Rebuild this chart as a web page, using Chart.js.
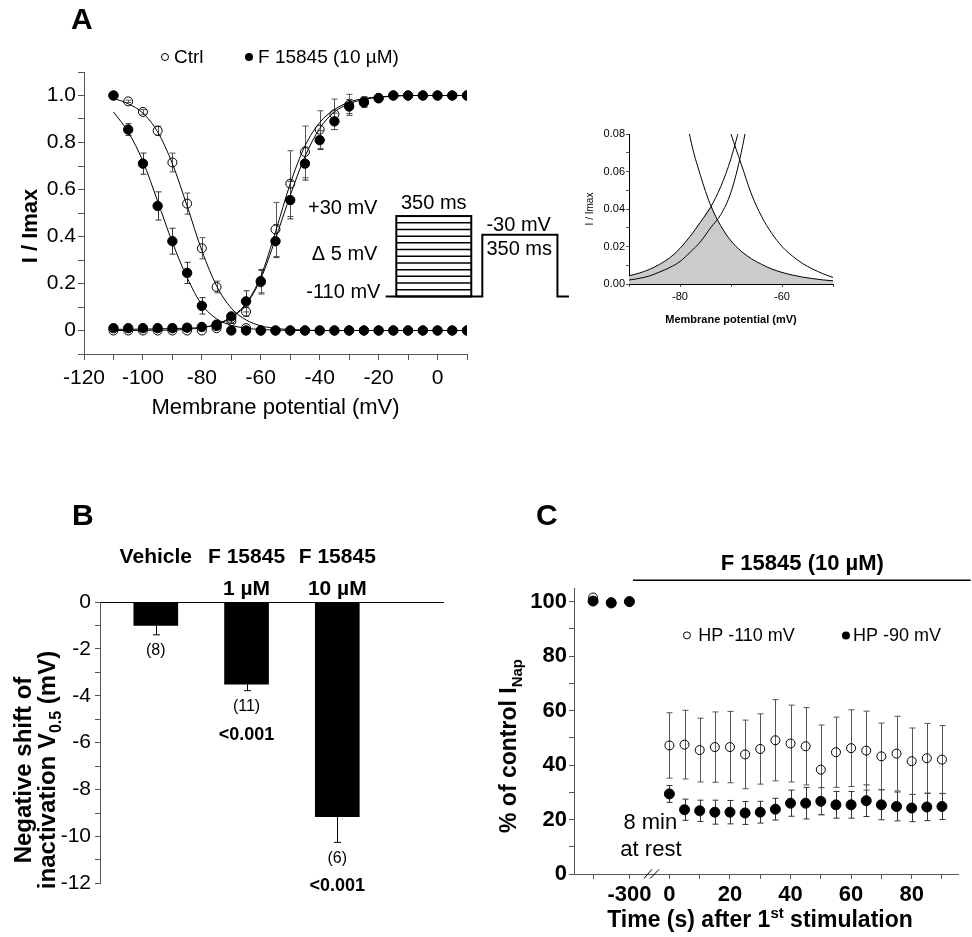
<!DOCTYPE html>
<html>
<head>
<meta charset="utf-8">
<title>F 15845 and INap</title>
<script src="https://cdn.jsdelivr.net/npm/chart.js@4.4.1/dist/chart.umd.min.js"></script>
<style>
  body { margin: 0; background: #fff; }
  #fig { position: relative; width: 972px; height: 937px; overflow: hidden; font-family: "Liberation Sans", Arial, sans-serif; }
  #fig canvas { position: absolute; }
  .letter { position: absolute; font-weight: bold; font-size: 30px; line-height: 30px; }
</style>
</head>
<body>
<div id="fig">
  <canvas id="chartA" width="580" height="425" style="left:0;top:0"></canvas>
  <canvas id="chartInset" width="280" height="220" style="left:575px;top:115px"></canvas>
  <canvas id="chartB" width="460" height="420" style="left:0;top:480px"></canvas>
  <canvas id="chartC" width="492" height="457" style="left:480px;top:480px"></canvas>
  <div class="letter" style="left:71px;top:4px">A</div>
  <div class="letter" style="left:72px;top:500px">B</div>
  <div class="letter" style="left:536px;top:500px">C</div>
</div>
<script>
const FONT = '"Liberation Sans", Arial, sans-serif';
const AXIS = '#555';

// A - activation / steady-state inactivation
const voltages = [-110, -105, -100, -95, -90, -85, -80, -75, -70, -65, -60, -55, -50, -45, -40, -35, -30, -25, -20, -15, -10, -5, 0, 5, 10];
const ctrlInact = [1.0, 0.975, 0.93, 0.85, 0.715, 0.54, 0.35, 0.185, 0.05, 0.01, 0, 0, 0, 0, 0, 0, 0, 0, 0, 0, 0, 0, 0, 0, 0];
const ctrlInactErr = [0, 0.005, 0.01, 0.02, 0.04, 0.045, 0.045, 0.025, 0.02, 0, 0, 0, 0, 0, 0, 0, 0, 0, 0, 0, 0, 0, 0, 0, 0];
const ctrlAct = [0, 0, 0, 0, 0, 0, 0, 0.01, 0.04, 0.08, 0.205, 0.43, 0.625, 0.76, 0.855, 0.92, 0.96, 0.975, 0.99, 1, 1, 1, 1, 1, 1];
const ctrlActErr = [0, 0, 0, 0, 0, 0, 0, 0, 0.01, 0.02, 0.05, 0.115, 0.14, 0.11, 0.08, 0.065, 0.045, 0.02, 0.01, 0, 0, 0, 0, 0, 0];
const drugInact = [1.0, 0.855, 0.71, 0.53, 0.38, 0.245, 0.105, 0.025, 0, 0, 0, 0, 0, 0, 0, 0, 0, 0, 0, 0, 0, 0, 0, 0, 0];
const drugInactErr = [0, 0.025, 0.045, 0.06, 0.055, 0.045, 0.035, 0.01, 0, 0, 0, 0, 0, 0, 0, 0, 0, 0, 0, 0, 0, 0, 0, 0, 0];
const drugAct = [0.01, 0.01, 0.01, 0.01, 0.01, 0.012, 0.015, 0.02, 0.06, 0.124, 0.21, 0.38, 0.555, 0.71, 0.81, 0.89, 0.953, 0.97, 0.988, 1, 1, 1, 1, 1, 1];
const drugActErr = [0, 0, 0, 0, 0, 0, 0, 0, 0.01, 0.045, 0.05, 0.07, 0.08, 0.07, 0.04, 0.035, 0.03, 0.02, 0, 0, 0, 0, 0, 0, 0];
// fitted curves
const ctrlInactFit = [0.988, 0.965, 0.925, 0.845, 0.71, 0.53, 0.34, 0.19, 0.095, 0.045, 0.02, 0.009, 0.004, 0.002, 0, 0, 0, 0, 0, 0, 0, 0, 0, 0, 0];
const drugInactFit = [0.93, 0.845, 0.72, 0.55, 0.375, 0.225, 0.11, 0.05, 0.022, 0.01, 0.004, 0.002, 0, 0, 0, 0, 0, 0, 0, 0, 0, 0, 0, 0, 0];
const ctrlActFit = [0, 0, 0.001, 0.001, 0.002, 0.005, 0.012, 0.027, 0.058, 0.115, 0.23, 0.42, 0.625, 0.785, 0.885, 0.94, 0.972, 0.987, 0.994, 0.998, 1, 1, 1, 1, 1];
const drugActFit = [0.005, 0.005, 0.006, 0.007, 0.008, 0.01, 0.013, 0.025, 0.055, 0.11, 0.22, 0.39, 0.575, 0.74, 0.86, 0.93, 0.965, 0.983, 0.992, 0.997, 1, 1, 1, 1, 1];

// inset - window current
const insetVoltages = [-90, -88, -86, -84, -82, -80, -78, -76, -74, -72, -70, -68, -66, -64, -62, -60, -58, -56, -54, -52, -50];
const insetDrugInact = [0.45, 0.35, 0.27, 0.2, 0.15, 0.11, 0.078, 0.058, 0.042, 0.031, 0.023, 0.0175, 0.0135, 0.0105, 0.008, 0.0062, 0.0048, 0.0037, 0.0029, 0.0022, 0.0017];
const insetCtrlInact = [0.9, 0.75, 0.6, 0.45, 0.35, 0.27, 0.2, 0.155, 0.12, 0.098, 0.08, 0.064, 0.048, 0.036, 0.027, 0.02, 0.015, 0.011, 0.008, 0.0055, 0.0035];
const insetDrugAct = [0.0044, 0.0058, 0.0078, 0.0105, 0.014, 0.019, 0.0255, 0.033, 0.041, 0.052, 0.067, 0.088, 0.12, 0.16, 0.21, 0.27, 0.35, 0.44, 0.54, 0.63, 0.72];
const insetCtrlAct = [0.0021, 0.003, 0.0043, 0.0064, 0.0088, 0.012, 0.017, 0.0225, 0.03, 0.037, 0.049, 0.07, 0.1, 0.14, 0.19, 0.25, 0.32, 0.4, 0.5, 0.6, 0.68];

// B - shift of V0.5
const groupNames = ['Vehicle', 'F 15845', 'F 15845'];
const groupDoses = ['', '1 µM', '10 µM'];
const shiftMeans = [-1.0, -3.5, -9.15];
const shiftErr = [0.4, 0.28, 1.1];
const groupN = ['(8)', '(11)', '(6)'];
const groupP = ['', '<0.001', '<0.001'];

// C - time course
const preTimes = [-320, -310, -300];
const preOpen = [101.5, 99.8, 100.0];
const preFilled = [100.2, 99.5, 100.0];
const times = [0, 5, 10, 15, 20, 25, 30, 35, 40, 45, 50, 55, 60, 65, 70, 75, 80, 85, 90];
const openMean = [47.2, 47.5, 45.5, 46.6, 46.6, 43.9, 45.9, 49.1, 47.9, 46.9, 38.3, 44.7, 46.2, 45.3, 43.2, 44.2, 41.4, 42.5, 42.0];
const openErr = [12, 12.6, 11.7, 12.9, 13.1, 12.6, 12.9, 14.9, 14.1, 14.2, 16.4, 12.9, 14.1, 14.5, 12.2, 13.7, 12.2, 12.8, 12.5];
const filledMean = [29.4, 23.6, 23.2, 22.7, 22.7, 22.4, 22.7, 23.8, 26.0, 26.0, 26.7, 25.4, 25.4, 26.9, 25.4, 24.8, 24.2, 24.6, 24.8];
const filledErr = [3.1, 3.9, 3.9, 4.4, 4.3, 4.2, 4.0, 4.0, 4.8, 5.8, 5.0, 4.9, 4.9, 5.8, 5.5, 5.3, 5.0, 5.0, 4.8];
const xTickTimes = [-320, -300, 0, 10, 20, 30, 40, 50, 60, 70, 80, 90];
const xTickLabels = ['', '-300', '0', '', '20', '', '40', '', '60', '', '80', ''];
const yTicksC = [0, 10, 20, 30, 40, 50, 60, 70, 80, 90, 100];

Chart.defaults.font.family = FONT;
Chart.defaults.color = '#000';
Chart.defaults.animation = false;
Chart.defaults.plugins.legend.display = false;
Chart.defaults.plugins.tooltip.enabled = false;

function pts(xs, ys) {
  return xs.map((x, i) => ({ x: x, y: ys[i] }));
}

function circle(ctx, x, y, r, filled) {
  ctx.save();
  ctx.beginPath();
  ctx.arc(x, y, r, 0, Math.PI * 2);
  if (filled) { ctx.fillStyle = '#000'; ctx.fill(); }
  else { ctx.strokeStyle = '#000'; ctx.lineWidth = 1; ctx.stroke(); }
  ctx.restore();
}

function label(ctx, str, x, y, size, weight, align) {
  ctx.save();
  ctx.font = (weight || 'normal') + ' ' + size + 'px ' + FONT;
  ctx.fillStyle = '#000';
  ctx.textAlign = align || 'center';
  ctx.textBaseline = 'middle';
  ctx.fillText(str, x, y);
  ctx.restore();
}

// text with sub/superscripts, centred on (x, y), optionally rotated
function richText(ctx, parts, x, y, size, weight, rotated) {
  const small = Math.round(size * 0.65);
  const fontOf = m => weight + ' ' + (m ? small : size) + 'px ' + FONT;
  ctx.save();
  ctx.translate(x, y);
  if (rotated) ctx.rotate(-Math.PI / 2);
  let total = 0;
  parts.forEach(p => { ctx.font = fontOf(p[1]); total += ctx.measureText(p[0]).width; });
  let cx = -total / 2;
  ctx.fillStyle = '#000';
  ctx.textBaseline = 'alphabetic';
  ctx.textAlign = 'left';
  parts.forEach(p => {
    ctx.font = fontOf(p[1]);
    const dy = p[1] === 'sub' ? size * 0.25 : p[1] === 'sup' ? -size * 0.42 : 0;
    ctx.fillText(p[0], cx, size * 0.36 + dy);
    cx += ctx.measureText(p[0]).width;
  });
  ctx.restore();
}

const errorBars = {
  id: 'errorBars',
  beforeDatasetsDraw(chart) {
    const ctx = chart.ctx;
    chart.data.datasets.forEach((ds, i) => {
      if (!ds.errors) return;
      const meta = chart.getDatasetMeta(i);
      const yScale = chart.scales[meta.yAxisID];
      const cap = ds.capHalf || 3;
      ctx.save();
      ctx.strokeStyle = ds.errorColor || '#000';
      ctx.lineWidth = 1;
      meta.data.forEach((el, j) => {
        const e = ds.errors[j];
        if (!e) return;
        const v = ds.data[j].y;
        const lo = yScale.getPixelForValue(v - e);
        const hi = yScale.getPixelForValue(ds.errorDown ? v : v + e);
        const x = Math.round(el.x) + 0.5;
        ctx.beginPath();
        ctx.moveTo(x, hi); ctx.lineTo(x, lo);
        ctx.moveTo(x - cap, lo); ctx.lineTo(x + cap, lo);
        if (!ds.errorDown) { ctx.moveTo(x - cap, hi); ctx.lineTo(x + cap, hi); }
        ctx.stroke();
      });
      ctx.restore();
    });
  }
};

const openStyle = { pointRadius: 4.5, pointBackgroundColor: 'rgba(0,0,0,0)', pointBorderColor: '#000', pointBorderWidth: 1, showLine: false, errorColor: '#555' };
const filledStyle = { pointRadius: 4.7, pointBackgroundColor: '#000', pointBorderColor: '#000', pointBorderWidth: 1, showLine: false, errorColor: '#333' };

function fitLine(xs, ys) {
  return { data: pts(xs, ys), showLine: true, pointRadius: 0, borderColor: '#000', borderWidth: 1, cubicInterpolationMode: 'monotone' };
}

function axisGrid(len) {
  return { drawOnChartArea: false, tickLength: len, color: AXIS };
}

// ---------- panel A ----------
const panelA = {
  id: 'panelA',
  afterDraw(chart) {
    const { ctx, scales: { x, y } } = chart;
    const ds = chart.data.datasets;
    circle(ctx, 165, 57, 3.5, false);
    label(ctx, ds[2].label, 174, 58, 19, 'normal', 'left');
    circle(ctx, 249, 57, 4, true);
    label(ctx, ds[0].label, 258, 58, 19, 'normal', 'left');
    richText(ctx, [['I / Imax', '']], 29, 226, 22, 'bold', true);

    // voltage protocol sketch
    const px = v => x.getPixelForValue(v), py = v => y.getPixelForValue(v);
    ctx.save();
    ctx.strokeStyle = '#000';
    ctx.lineWidth = 1.5;
    const boxL = px(-14.0), boxR = px(11.45), top = py(0.487), hold = py(0.145);
    const steps = 12;
    for (let k = 1; k < steps; k++) {
      const yy = hold + (top - hold) * k / steps;
      ctx.beginPath(); ctx.moveTo(boxL, yy); ctx.lineTo(boxR, yy); ctx.stroke();
    }
    ctx.lineWidth = 2;
    ctx.strokeRect(boxL, top, boxR - boxL, hold - top);
    ctx.beginPath();
    ctx.moveTo(px(-17.6), hold); ctx.lineTo(px(15.2), hold);
    ctx.lineTo(px(15.2), py(0.407)); ctx.lineTo(px(40.7), py(0.407));
    ctx.lineTo(px(40.7), hold); ctx.lineTo(px(44.6), hold);
    ctx.stroke();
    ctx.restore();
    label(ctx, '+30 mV', px(-20.4), py(0.521), 20, 'normal', 'right');
    label(ctx, 'Δ 5 mV', px(-20.4), py(0.322), 20, 'normal', 'right');
    label(ctx, '-110 mV', px(-19.4), py(0.161), 20, 'normal', 'right');
    label(ctx, '350 ms', (boxL + boxR) / 2, py(0.542), 20);
    label(ctx, '-30 mV', px(16.6), py(0.449), 20, 'normal', 'left');
    label(ctx, '350 ms', px(16.6), py(0.343), 20, 'normal', 'left');
  }
};

new Chart(document.getElementById('chartA'), {
  type: 'scatter',
  data: {
    datasets: [
      Object.assign({ label: 'F 15845 (10 µM)', data: pts(voltages, drugInact), errors: drugInactErr }, filledStyle),
      Object.assign({ label: 'F 15845 (10 µM)', data: pts(voltages, drugAct), errors: drugActErr }, filledStyle),
      Object.assign({ label: 'Ctrl', data: pts(voltages, ctrlInact), errors: ctrlInactErr }, openStyle),
      Object.assign({ label: 'Ctrl', data: pts(voltages, ctrlAct), errors: ctrlActErr }, openStyle),
      fitLine(voltages, ctrlInactFit),
      fitLine(voltages, drugInactFit),
      fitLine(voltages, ctrlActFit),
      fitLine(voltages, drugActFit)
    ]
  },
  options: {
    responsive: false,
    layout: { padding: { left: 14, right: 113, top: 72, bottom: 0 } },
    scales: {
      x: {
        type: 'linear', min: -120, max: 10,
        afterFit: s => { s.height = 71; },
        ticks: { stepSize: 10, autoSkip: false, maxRotation: 0, padding: 6, font: { size: 21 },
          callback: v => (v % 20 === 0 ? String(v) : '') },
        grid: axisGrid(6),
        border: { color: AXIS },
        title: { display: true, text: 'Membrane potential (mV)', font: { size: 22 }, padding: { top: 4, bottom: 4 } }
      },
      y: {
        type: 'linear', min: -0.1, max: 1.1,
        afterFit: s => { s.width = 70; },
        ticks: { stepSize: 0.1, autoSkip: false, padding: 2, font: { size: 21 },
          callback: v => {
            const k = Math.round(v * 10);
            if (k < 0 || k > 10 || k % 2) return '';
            return k === 0 ? '0' : (k / 10).toFixed(1);
          } },
        grid: axisGrid(6),
        border: { color: AXIS }
      }
    }
  },
  plugins: [errorBars, panelA]
});

// ---------- inset ----------
const windowArea = insetDrugInact.map((v, i) => Math.min(v, insetDrugAct[i]));

new Chart(document.getElementById('chartInset'), {
  type: 'scatter',
  data: {
    datasets: [
      fitLine(insetVoltages, insetDrugInact),
      fitLine(insetVoltages, insetCtrlInact),
      fitLine(insetVoltages, insetDrugAct),
      fitLine(insetVoltages, insetCtrlAct),
      { data: pts(insetVoltages, windowArea), showLine: true, pointRadius: 0, borderWidth: 0,
        backgroundColor: '#cbcbcb', fill: 'origin', cubicInterpolationMode: 'monotone' }
    ]
  },
  options: {
    responsive: false,
    layout: { padding: { left: 5, right: 22, top: 19, bottom: 4 } },
    scales: {
      x: {
        type: 'linear', min: -90, max: -50,
        afterFit: s => { s.height = 47; },
        ticks: { stepSize: 10, autoSkip: false, maxRotation: 0, padding: 3, font: { size: 11 },
          callback: v => (v === -80 || v === -60 ? String(v) : '') },
        grid: axisGrid(3),
        border: { color: '#000' },
        title: { display: true, text: 'Membrane potential (mV)', font: { size: 11, weight: 'bold' }, padding: { top: 2, bottom: 4 } }
      },
      y: {
        type: 'linear', min: 0, max: 0.08,
        afterFit: s => { s.width = 49; },
        ticks: { stepSize: 0.01, autoSkip: false, padding: 1, font: { size: 11 },
          callback: v => { const k = Math.round(v * 100); return k % 2 ? '' : (k / 100).toFixed(2); } },
        grid: axisGrid(3),
        border: { color: '#000' },
        title: { display: true, text: 'I / Imax', font: { size: 10 }, padding: { top: 4, bottom: 2 } }
      }
    }
  }
});

// ---------- panel B ----------
const panelB = {
  id: 'panelB',
  afterDraw(chart) {
    const { ctx, chartArea, scales: { x, y } } = chart;
    groupNames.forEach((name, i) => {
      const cx = x.getPixelForValue(i);
      label(ctx, name, cx, chartArea.top - 45, 21, 'bold');
      if (groupDoses[i]) label(ctx, groupDoses[i], cx, chartArea.top - 13, 21, 'bold');
      const yEnd = y.getPixelForValue(shiftMeans[i] - shiftErr[i]);
      label(ctx, groupN[i], cx, yEnd + 16, 16);
      if (groupP[i]) label(ctx, groupP[i], cx, yEnd + 44, 18, 'bold');
    });
    richText(ctx, [['Negative shift of', '']], 22, 290, 24, 'bold', true);
    richText(ctx, [['inactivation V', ''], ['0.5', 'sub'], [' (mV)', '']], 46, 290, 24, 'bold', true);
  }
};

new Chart(document.getElementById('chartB'), {
  type: 'bar',
  data: {
    datasets: [{
      data: pts(groupNames.map((g, i) => i), shiftMeans),
      errors: shiftErr, errorDown: true, capHalf: 3.5, errorColor: '#000',
      backgroundColor: '#000', barThickness: 44
    }]
  },
  options: {
    responsive: false,
    layout: { padding: { left: 0, right: 17, top: 122, bottom: 15 } },
    scales: {
      x: {
        type: 'linear', position: 'top', min: -0.3, max: 2.85,
        afterFit: s => { s.height = 0; },
        ticks: { display: false },
        grid: { display: false },
        border: { color: '#000' }
      },
      y: {
        type: 'linear', min: -12, max: 0,
        afterFit: s => { s.width = 100; },
        ticks: { stepSize: 1, autoSkip: false, padding: 4, font: { size: 21 },
          callback: v => (v % 2 ? '' : String(v)) },
        grid: axisGrid(5),
        border: { color: AXIS }
      }
    }
  },
  plugins: [errorBars, panelB]
});

// ---------- panel C ----------
const PRE_END_POS = -13.2;   // axis position of the -300 s point (broken axis)
const PRE_SCALE = 0.6;
const xPos = t => (t >= 0 ? t : PRE_END_POS + (t - preTimes[preTimes.length - 1]) * PRE_SCALE);

const panelC = {
  id: 'panelC',
  afterDraw(chart) {
    const { ctx, scales: { x, y } } = chart;
    const px = v => x.getPixelForValue(v), py = v => y.getPixelForValue(v);
    const ds = chart.data.datasets;
    ctx.save();
    ctx.strokeStyle = '#000';
    ctx.lineWidth = 1.5;
    ctx.beginPath(); ctx.moveTo(px(-12), py(107.8)); ctx.lineTo(px(99.5), py(107.8)); ctx.stroke();
    // axis break marks
    ctx.lineWidth = 1;
    ctx.beginPath();
    ctx.moveTo(px(-8.4), py(-1.7)); ctx.lineTo(px(-5.8), py(1.7));
    ctx.moveTo(px(-6.4), py(-1.7)); ctx.lineTo(px(-3.4), py(1.7));
    ctx.stroke();
    ctx.restore();
    label(ctx, 'F 15845 (10 µM)', px(43.9), py(113.7), 22, 'bold');
    circle(ctx, px(5.8), py(87.6), 3.5, false);
    label(ctx, ds[1].label, px(9.5), py(87.4), 18, 'normal', 'left');
    circle(ctx, px(58.3), py(87.6), 4, true);
    label(ctx, ds[0].label, px(60.6), py(87.4), 18, 'normal', 'left');
    label(ctx, '8 min', px(-6.3), py(18.6), 22);
    label(ctx, 'at rest', px(-6.1), py(8.8), 22);
    richText(ctx, [['% of control I', ''], ['Nap', 'sub']], 28, 266, 23, 'bold', true);
    richText(ctx, [['Time (s) after 1', ''], ['st', 'sup'], [' stimulation', '']], 280, 439, 23, 'bold', false);
  }
};

new Chart(document.getElementById('chartC'), {
  type: 'scatter',
  data: {
    datasets: [
      Object.assign({ label: 'HP -90 mV',
        data: pts(preTimes.map(xPos), preFilled).concat(pts(times, filledMean)),
        errors: [0, 0, 0].concat(filledErr) }, filledStyle, { pointRadius: 5 }),
      Object.assign({ label: 'HP -110 mV',
        data: pts(preTimes.map(xPos), preOpen).concat(pts(times, openMean)),
        errors: [0, 0, 0].concat(openErr) }, openStyle)
    ]
  },
  options: {
    responsive: false,
    layout: { padding: { left: 0, right: 14, top: 108, bottom: 1 } },
    scales: {
      x: {
        type: 'linear', min: -31.5, max: 95.3,
        afterFit: s => { s.height = 62; },
        afterBuildTicks: s => { s.ticks = xTickTimes.map(t => ({ value: xPos(t) })); },
        ticks: { autoSkip: false, maxRotation: 0, padding: 3, font: { size: 22, weight: 'bold' },
          callback: (v, i) => xTickLabels[i] },
        grid: axisGrid(5),
        border: { color: AXIS }
      },
      y: {
        type: 'linear', min: 0, max: 105,
        afterFit: s => { s.width = 94; },
        afterBuildTicks: s => { s.ticks = yTicksC.map(v => ({ value: v })); },
        ticks: { autoSkip: false, padding: 2, font: { size: 22, weight: 'bold' },
          callback: v => (v % 20 ? '' : String(v)) },
        grid: axisGrid(5),
        border: { color: AXIS }
      }
    }
  },
  plugins: [errorBars, panelC]
});
</script>
</body>
</html>
